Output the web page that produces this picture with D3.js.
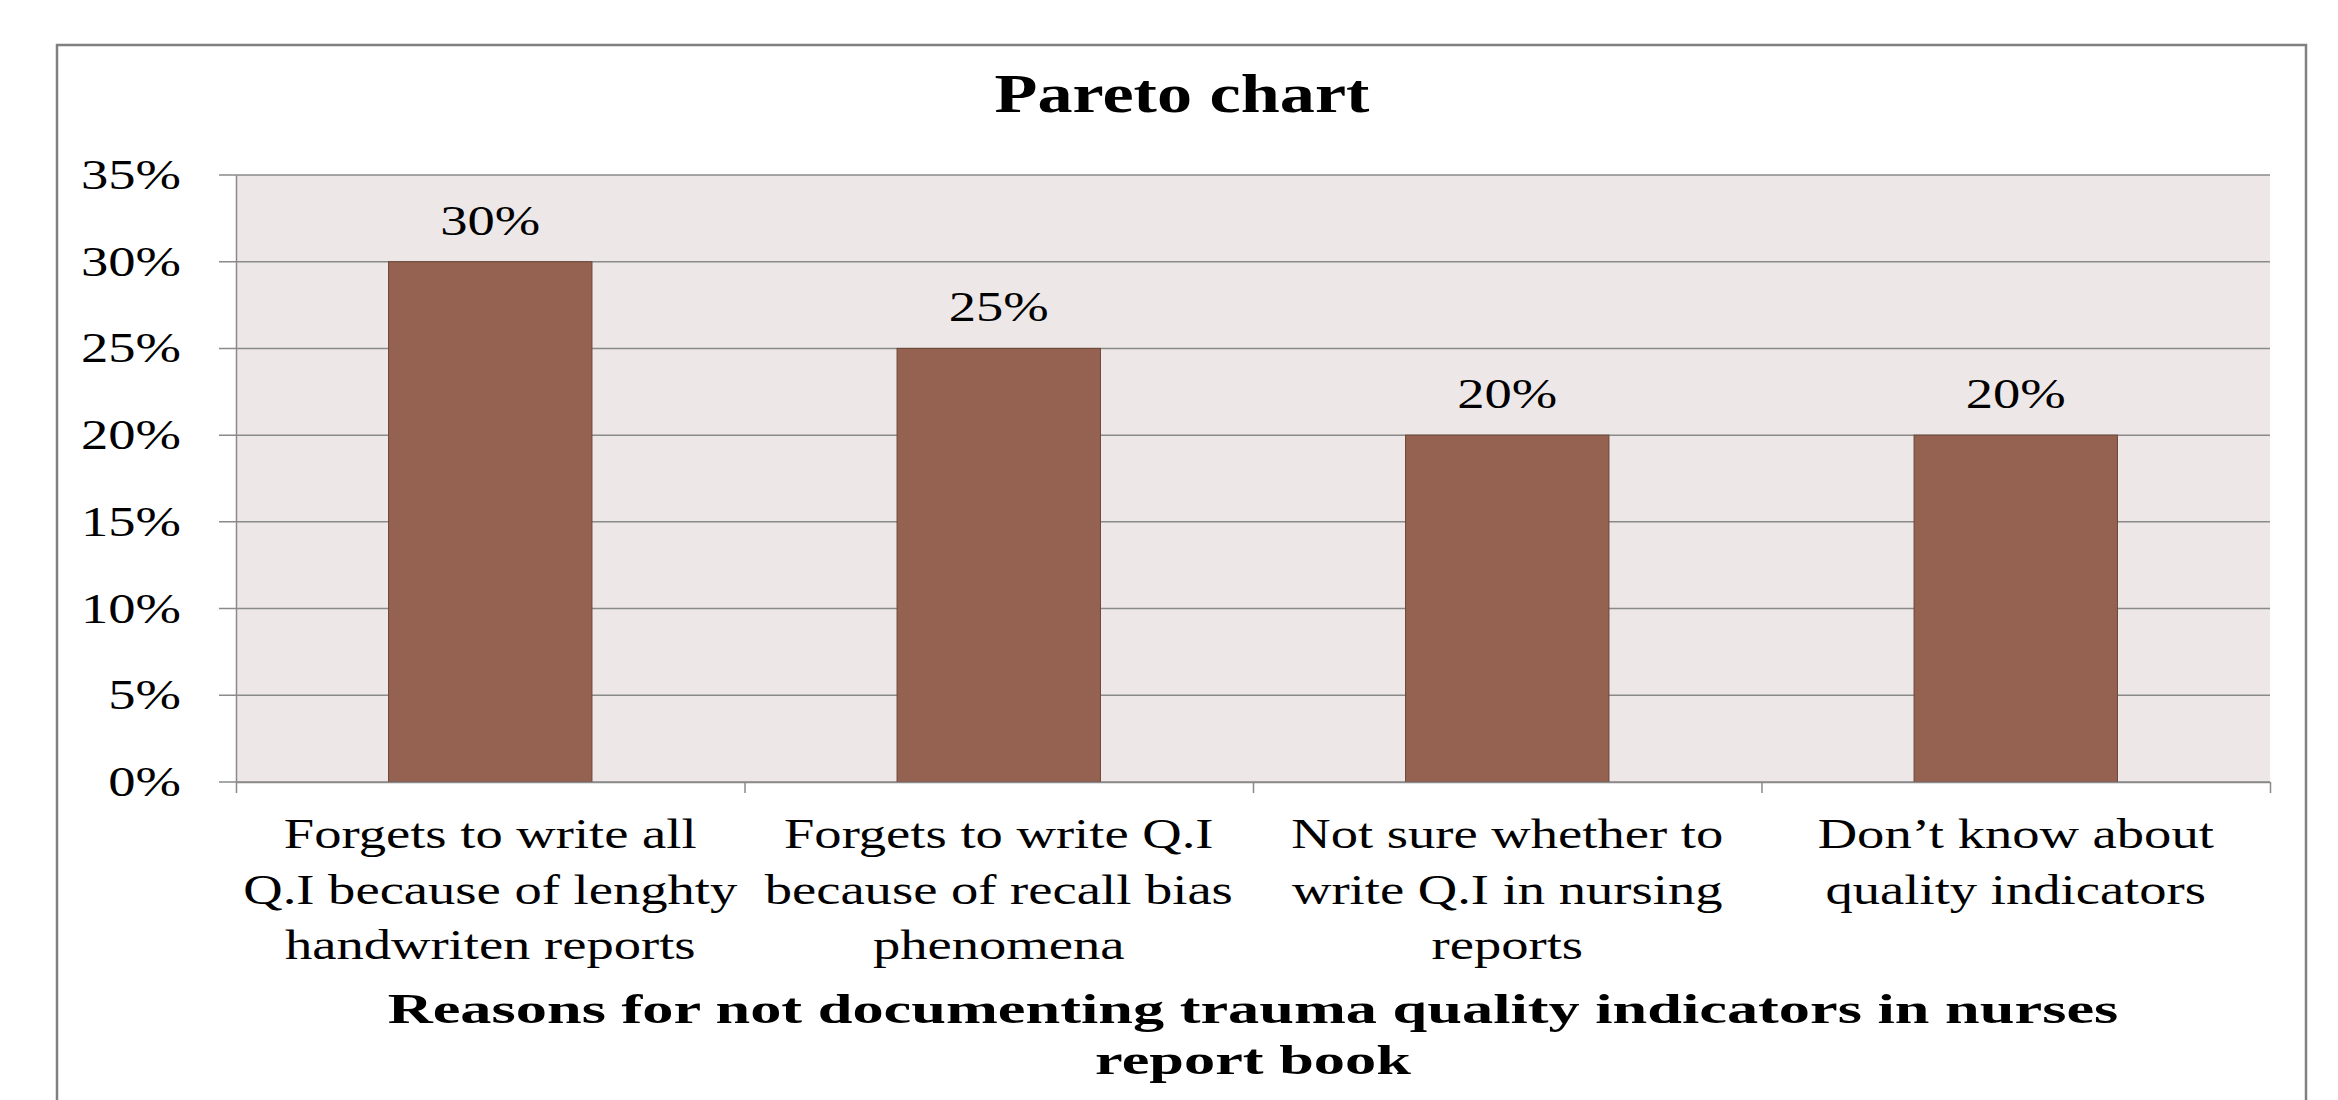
<!DOCTYPE html>
<html>
<head>
<meta charset="utf-8">
<script src="https://cdn.jsdelivr.net/npm/d3@7"></script>
<style>
  body { margin: 0; background: #fff; }
  text { font-family: "Liberation Serif", "Times New Roman", serif; fill: #000; }
</style>
</head>
<body>
<svg id="chart" width="2338" height="1100"></svg>
<script>
// Data
const categories = [
  ["Forgets to write all", "Q.I because of lenghty", "handwriten reports"],
  ["Forgets to write Q.I", "because of recall bias", "phenomena"],
  ["Not sure whether to", "write Q.I in nursing", "reports"],
  ["Don\u2019t know about", "quality indicators"]
]
const values = [0.30, 0.25, 0.20, 0.20]
const yTicks = [0, 0.05, 0.10, 0.15, 0.20, 0.25, 0.30, 0.35]
const chartTitle = "Pareto chart"
const xTitle = ["Reasons for not documenting trauma quality indicators in nurses", "report book"]

// Globals
const svg = d3.select("#chart")
const plotLeft = 236, plotRight = 2270, plotTop = 175, plotBottom = 782
const sx = 1.3   // the original text is stretched sideways
const pct = d3.format(".0%")

// outer frame (bottom edge runs off the picture)
svg.append("rect")
  .attr("x", 57).attr("y", 45)
  .attr("width", 2306 - 57).attr("height", 1120)
  .attr("fill", "none").attr("stroke", "#808080").attr("stroke-width", 2.5)

let x = d3.scaleBand()
  .domain(d3.range(categories.length))
  .range([plotLeft, plotRight])
  .paddingInner(0.6)
  .paddingOuter(0.3)

let xEdge = d3.scaleLinear().domain([0, categories.length]).range([plotLeft, plotRight])

let y = d3.scaleLinear().domain([0, 0.35]).range([plotBottom, plotTop])

function stretched(sel, tx, ty, str, size, weight, scaleX) {
  return sel.append("text")
    .attr("transform", "translate(" + tx + "," + ty + ") scale(" + (scaleX || sx) + ",1)")
    .attr("text-anchor", "middle")
    .style("font-size", size + "px")
    .style("font-weight", weight || "normal")
    .text(str)
}

// plot background
svg.append("rect")
  .attr("x", plotLeft).attr("y", plotTop)
  .attr("width", plotRight - plotLeft).attr("height", plotBottom - plotTop)
  .attr("fill", "#ede7e7")

// gridlines
svg.append("g")
  .selectAll("line")
  .data(yTicks)
  .enter()
    .append("line")
    .attr("x1", plotLeft - 17).attr("x2", plotRight)
    .attr("y1", d => y(d)).attr("y2", d => y(d))
    .attr("stroke", "#8a8a8a").attr("stroke-width", 1.5)

// y axis
let yAxis = svg.append("g")
  .attr("transform", "translate(" + plotLeft + ",0)")
  .call(d3.axisLeft(y).tickValues(yTicks).tickFormat(pct).tickSize(0).tickSizeOuter(0))
yAxis.select(".domain").attr("stroke", "#8a8a8a").attr("stroke-width", 1.5)
yAxis.selectAll(".tick text")
  .attr("x", 0)
  .attr("transform", "translate(-55,0) scale(" + sx + ",1)")
  .style("font-size", "42px")
  .style("font-family", "Liberation Serif")
  .attr("fill", "#000")

// bars
svg.append("g")
  .selectAll("rect")
  .data(values)
  .enter()
    .append("rect")
    .attr("x", (d, i) => x(i))
    .attr("y", d => y(d))
    .attr("width", x.bandwidth())
    .attr("height", d => y(0) - y(d))
    .attr("fill", "#956251")
    .attr("stroke", "#6e4638")
    .attr("stroke-width", 1)

// value labels
values.forEach((v, i) => {
  stretched(svg, x(i) + x.bandwidth() / 2, y(v) - 27, pct(v), 42)
})

// x axis with category boundary ticks
let xAxis = svg.append("g")
  .attr("transform", "translate(0," + plotBottom + ")")
  .call(d3.axisBottom(xEdge).tickValues(d3.range(categories.length + 1)).tickFormat("").tickSize(11).tickSizeOuter(0))
xAxis.select(".domain").attr("stroke", "#8a8a8a").attr("stroke-width", 1.5)
xAxis.selectAll(".tick line").attr("stroke", "#8a8a8a").attr("stroke-width", 1.5)

// category labels
categories.forEach((lines, i) => {
  lines.forEach((ln, j) => {
    stretched(svg, x(i) + x.bandwidth() / 2, 848 + j * 55.5, ln, 42)
  })
})

// titles
stretched(svg, 1182, 112, chartTitle, 54, "bold")
xTitle.forEach((ln, j) => {
  stretched(svg, (plotLeft + plotRight) / 2, 1023 + j * 51, ln, 43, "bold", 1.45)
})
</script>
</body>
</html>
